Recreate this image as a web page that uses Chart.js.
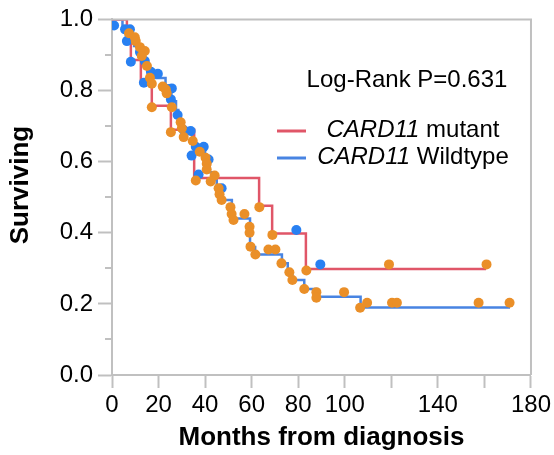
<!DOCTYPE html>
<html><head><meta charset="utf-8">
<script src="https://cdn.jsdelivr.net/npm/chart.js@4"></script>
<style>html,body{margin:0;padding:0;background:#fff}</style>
</head><body>
<canvas id="c" width="554" height="455" style="width:554px;height:455px;display:block"></canvas>
<script>
// ---- data ----
const mutantTimes = [0, 6.4, 8.1, 12.4, 17.1, 25.3, 35.3, 63.2, 68.8, 83.3, 160.7];
const mutantSurv  = [1.0, 0.955, 0.886, 0.824, 0.757, 0.690, 0.554, 0.476, 0.398, 0.298, 0.298];

const wildTimes = [0, 4.5, 6, 8, 9.5, 11.5, 13, 14.5, 16, 18.5, 23, 24.5, 25.5, 27.5, 28.5, 29.5, 30.5, 34.5, 36, 40, 41, 42, 43.5, 45, 46, 46.8, 51.5, 59.3, 61.5, 73, 75.5, 77.5, 82.6, 87.8, 106.8, 171];
const wildSurv  = [1.0, 0.975, 0.955, 0.94, 0.925, 0.905, 0.885, 0.865, 0.85, 0.835, 0.815, 0.795, 0.77, 0.745, 0.725, 0.705, 0.685, 0.655, 0.64, 0.61, 0.59, 0.57, 0.55, 0.53, 0.51, 0.492, 0.44, 0.36, 0.339, 0.314, 0.29, 0.267, 0.242, 0.22, 0.19, 0.19];

const orangeX = [7.3, 9.8, 10.2, 12.0, 14.1, 12.8, 15.0, 16.3, 17.1, 17.1, 21.8, 23.1, 23.5, 25.7, 29.5, 30.0, 25.3, 30.8, 34.7, 37.7, 40.2, 40.7, 40.7, 44.1, 36.0, 42.4, 45.8, 46.2, 47.1, 50.9, 51.4, 52.2, 56.9, 59.1, 59.1, 59.5, 61.6, 63.3, 67.2, 70.2, 68.9, 72.8, 76.2, 77.5, 82.6, 83.5, 87.8, 87.8, 99.7, 106.6, 109.6, 119.0, 120.3, 122.4, 157.5, 160.9, 170.8];
const orangeY = [0.961, 0.950, 0.939, 0.922, 0.911, 0.897, 0.869, 0.836, 0.819, 0.753, 0.811, 0.803, 0.792, 0.753, 0.711, 0.694, 0.683, 0.669, 0.658, 0.628, 0.611, 0.594, 0.578, 0.561, 0.547, 0.544, 0.525, 0.508, 0.492, 0.472, 0.453, 0.436, 0.453, 0.417, 0.400, 0.361, 0.339, 0.472, 0.353, 0.353, 0.394, 0.314, 0.289, 0.267, 0.242, 0.294, 0.233, 0.217, 0.233, 0.189, 0.203, 0.311, 0.203, 0.203, 0.203, 0.311, 0.203];

const blueX = [0.9, 5.6, 7.7, 6.4, 12.0, 14.1, 8.1, 16.7, 19.7, 13.7, 25.7, 25.3, 28.2, 30.8, 33.8, 36.0, 39.4, 34.2, 41.5, 37.2, 47.1, 79.2, 89.5];
const blueY = [0.983, 0.972, 0.972, 0.939, 0.908, 0.883, 0.881, 0.853, 0.847, 0.822, 0.806, 0.775, 0.731, 0.689, 0.686, 0.642, 0.642, 0.617, 0.606, 0.564, 0.525, 0.408, 0.311];

const xTickLabels = [0, 20, 40, 60, 80, 100, 140, 180];
const yTickLabels = [0.0, 0.2, 0.4, 0.6, 0.8, 1.0];
const yMinorTicks = [0.1, 0.3, 0.5, 0.7, 0.9];

const pValueText = 'Log-Rank P=0.631';
const seriesNames = [['CARD11', ' mutant'], ['CARD11', ' Wildtype']];
const xTitle = 'Months from diagnosis';
const yTitle = 'Surviving';

// ---- styling ----
const FONT = "'Liberation Sans', Arial, Helvetica, sans-serif";
const RED = 'rgb(224,86,104)';
const BLUE_LINE = 'rgb(72,132,226)';
const ORANGE = 'rgb(234,143,40)';
const BLUE_DOT = 'rgb(40,128,242)';
const AXIS = 'rgb(192,192,192)';

const zip = (xs, ys) => xs.map((x, i) => ({x, y: ys[i]}));

const extras = {
  id: 'extras',
  afterDraw(chart) {
    const {ctx, chartArea: a, scales} = chart;
    ctx.save();
    ctx.strokeStyle = AXIS; ctx.lineWidth = 2;
    ctx.beginPath();
    ctx.moveTo(a.left, a.top); ctx.lineTo(a.right, a.top); ctx.lineTo(a.right, a.bottom);
    ctx.stroke();
    const ys = scales.y;
    ctx.beginPath();
    yMinorTicks.forEach(v => {
      const p = Math.round(ys.getPixelForValue(v));
      ctx.moveTo(a.left - 7, p); ctx.lineTo(a.left, p);
    });
    ctx.stroke();
    ctx.fillStyle = '#000';
    ctx.font = 'bold 26px ' + FONT;
    ctx.textAlign = 'center'; ctx.textBaseline = 'middle';
    ctx.translate(21, 185); ctx.rotate(-Math.PI / 2);
    ctx.fillText(yTitle, 0, 0);
    ctx.setTransform(1, 0, 0, 1, 0, 0);
    ctx.font = '24px ' + FONT;
    ctx.textAlign = 'center'; ctx.textBaseline = 'alphabetic';
    ctx.fillText(pValueText, 407, 87);
    const rows = [{c: RED, y: 131}, {c: BLUE_LINE, y: 158}];
    rows.forEach((r, i) => {
      ctx.strokeStyle = r.c; ctx.lineWidth = 3;
      ctx.beginPath(); ctx.moveTo(277, r.y); ctx.lineTo(306, r.y); ctx.stroke();
      const [it, rest] = seriesNames[i];
      ctx.font = 'italic 24px ' + FONT;
      const w1 = ctx.measureText(it).width;
      ctx.font = '24px ' + FONT;
      const w2 = ctx.measureText(rest).width;
      const x0 = 413 - (w1 + w2) / 2;
      ctx.textAlign = 'left';
      ctx.font = 'italic 24px ' + FONT;
      ctx.fillText(it, x0, r.y + 6);
      ctx.font = '24px ' + FONT;
      ctx.fillText(rest, x0 + w1, r.y + 6);
    });
    ctx.restore();
  }
};

new Chart(document.getElementById('c'), {
  data: {
    datasets: [
      {type: 'scatter', data: zip(orangeX, orangeY), backgroundColor: ORANGE, borderColor: ORANGE, pointRadius: 5, pointBorderWidth: 0, order: 0},
      {type: 'scatter', data: zip(blueX, blueY), backgroundColor: BLUE_DOT, borderColor: BLUE_DOT, pointRadius: 5, pointBorderWidth: 0, order: 1},
      {type: 'line', data: zip(mutantTimes, mutantSurv), stepped: 'before', borderColor: RED, borderWidth: 2.5, pointRadius: 0, fill: false, order: 2},
      {type: 'line', data: zip(wildTimes, wildSurv), stepped: 'before', borderColor: BLUE_LINE, borderWidth: 2.5, pointRadius: 0, fill: false, order: 3}
    ]
  },
  options: {
    responsive: false, animation: false, devicePixelRatio: 1,
    layout: {padding: {top: 15, right: 21, left: 0, bottom: 0}},
    plugins: {legend: {display: false}, tooltip: {enabled: false}},
    scales: {
      x: {
        type: 'linear', min: 0, max: 180,
        afterFit(s) { s.height = 80; },
        grid: {display: true, drawOnChartArea: false, drawTicks: true, tickLength: 13, color: AXIS, tickColor: AXIS, tickWidth: 2},
        border: {display: true, color: AXIS, width: 2},
        ticks: {stepSize: 20, autoSkip: false, maxRotation: 0, padding: 3, color: '#000',
          font: {size: 24, family: FONT},
          callback: v => xTickLabels.includes(v) ? String(v) : ''},
        title: {display: true, text: xTitle, color: '#000', font: {size: 26, weight: 'bold', family: FONT}, padding: {top: 0, bottom: 2}}
      },
      y: {
        type: 'linear', min: 0, max: 1,
        afterFit(s) { s.width = 112; },
        grid: {display: true, drawOnChartArea: false, drawTicks: true, tickLength: 14, color: AXIS, tickColor: AXIS, tickWidth: 2},
        border: {display: true, color: AXIS, width: 2},
        ticks: {stepSize: 0.2, padding: 5, color: '#000', font: {size: 24, family: FONT},
          callback: v => {
            const m = yTickLabels.find(t => Math.abs(t - v) < 1e-6);
            return m === undefined ? '' : m.toFixed(1);
          }}
      }
    }
  },
  plugins: [extras]
});
</script>
</body></html>
